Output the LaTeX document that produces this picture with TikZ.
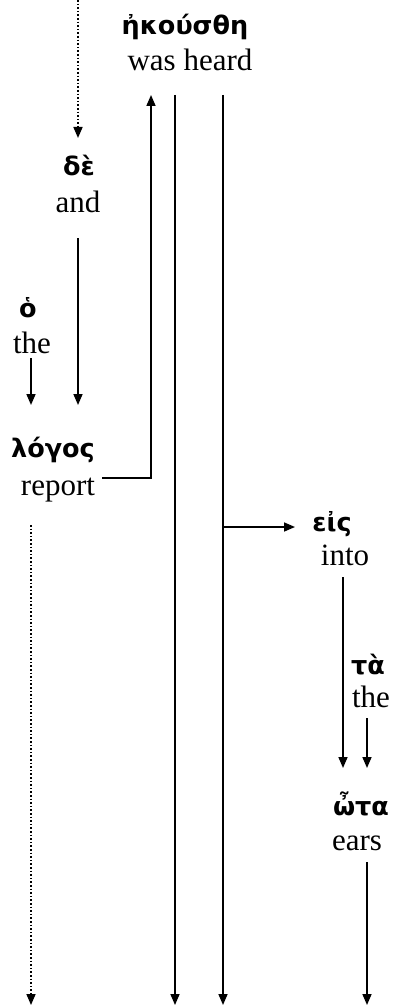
\documentclass[tikz,border=0pt]{standalone}
\usepackage{fontspec}
\setmainfont{Liberation Serif}
\newfontfamily\gk[Script=Greek]{DejaVu Sans}
\usetikzlibrary{arrows.meta}
\tikzset{
  gr/.style={font=\gk\bfseries\fontsize{25.5}{25.5}\selectfont, anchor=base, inner sep=0pt},
  en/.style={font=\fontsize{31}{31}\selectfont, anchor=base, inner sep=0pt},
  conn/.style={line width=1.6pt},
  arr/.style={conn, -{Triangle[width=9pt,length=11pt]}},
  dotarr/.style={line width=1.6pt, dotted, -{Triangle[width=9pt,length=11pt]}}
}
\begin{document}
\begin{tikzpicture}[x=1pt,y=-1pt]
\useasboundingbox (0,0) rectangle (394,1006);
% words
\node[gr] (akousthe) at (185,35) {ἠκούσθη};
\node[en] (washeard) at (190,71) {was heard};
\node[gr] (de) at (79,175) {δὲ};
\node[en] (and) at (78,212) {and};
\node[gr] (ho) at (28,317) {ὁ};
\node[en] (the1) at (32,353) {the};
\node[gr] (logos) at (53,457) {λόγος};
\node[en] (report) at (58,495) {report};
\node[gr] (eis) at (332,531) {εἰς};
\node[en] (into) at (345,565) {into};
\node[gr] (ta) at (368,674) {τὰ};
\node[en] (the2) at (371,707) {the};
\node[gr] (ota) at (361,815) {ὦτα};
\node[en] (ears) at (357,850) {ears};
% coordinates
\coordinate (topdot) at (78,0);
\coordinate (detip) at (78,138);
\coordinate (andbot) at (78,238);
\coordinate (andtip) at (78,405);
\coordinate (thebot) at (31,358);
\coordinate (thetip) at (31,405);
\coordinate (reprt) at (102,478);
\coordinate (repcorner) at (151,478);
\coordinate (uptip) at (151,95);
\coordinate (v1top) at (175,95);
\coordinate (v1bot) at (175,1005);
\coordinate (v2top) at (223,95);
\coordinate (v2bot) at (223,1005);
\coordinate (branch) at (223,527);
\coordinate (eistip) at (295,527);
\coordinate (intobot) at (343,577);
\coordinate (intotip) at (343,768);
\coordinate (the2bot) at (367,718);
\coordinate (the2tip) at (367,768);
\coordinate (earsbot) at (367,862);
\coordinate (earstip) at (367,1005);
\coordinate (logosdot) at (31,525);
\coordinate (logostip) at (31,1005);
% connectors
\draw[dotarr] (topdot) -- (detip);
\draw[arr] (andbot) -- (andtip);
\draw[arr] (thebot) -- (thetip);
\draw[arr] (reprt) -- (repcorner) -- (uptip);
\draw[arr] (v1top) -- (v1bot);
\draw[arr] (v2top) -- (v2bot);
\draw[arr] (branch) -- (eistip);
\draw[arr] (intobot) -- (intotip);
\draw[arr] (the2bot) -- (the2tip);
\draw[arr] (earsbot) -- (earstip);
\draw[dotarr] (logosdot) -- (logostip);
\end{tikzpicture}
\end{document}
